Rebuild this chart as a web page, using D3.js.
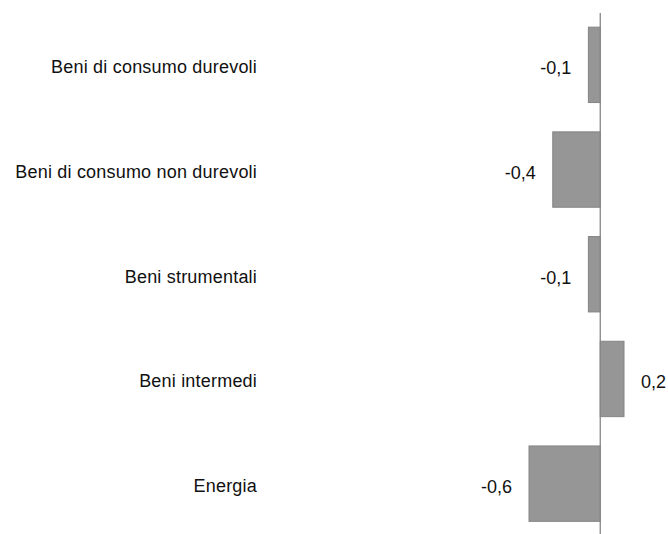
<!DOCTYPE html>
<html>
<head>
<meta charset="utf-8">
<script src="https://cdn.jsdelivr.net/npm/d3@7"></script>
<style>
  body { margin: 0; background: #fff; }
  text { font-family: "Liberation Sans", Arial, sans-serif; }
</style>
</head>
<body>
<div id="chart"></div>
<script>
// categories and values (top to bottom)
var categories = ['Beni di consumo durevoli', 'Beni di consumo non durevoli', 'Beni strumentali', 'Beni intermedi', 'Energia'];
var values = [-0.1, -0.4, -0.1, 0.2, -0.6];
var valueLabels = ['-0,1', '-0,4', '-0,1', '0,2', '-0,6'];

var W = 668, H = 534;

var svg = d3.select('#chart').append('svg')
    .attr('width', W)
    .attr('height', H);

var x = d3.scaleLinear()
    .domain([-0.6, 0.2])
    .range([529, 624]);

var y = d3.scaleBand()
    .domain(categories)
    .range([12.5, 536])
    .paddingInner(0.28)
    .paddingOuter(0.14);

var data = categories.map(function(c, i){ return { cat: c, v: values[i], lab: valueLabels[i] }; });

// bars
svg.selectAll('rect.bar')
    .data(data)
    .enter()
    .append('rect')
    .attr('class', 'bar')
    .attr('x', function(d){ return x(Math.min(0, d.v)); })
    .attr('y', function(d){ return y(d.cat); })
    .attr('width', function(d){ return Math.abs(x(d.v) - x(0)); })
    .attr('height', y.bandwidth())
    .attr('fill', '#969696')
    .attr('stroke', '#858585')
    .attr('stroke-width', 1);

// zero axis
svg.append('line')
    .attr('x1', x(0)).attr('x2', x(0))
    .attr('y1', 13).attr('y2', H)
    .attr('stroke', '#868686')
    .attr('stroke-width', 1.3);

// category labels
svg.selectAll('text.cat')
    .data(data)
    .enter()
    .append('text')
    .attr('class', 'cat')
    .attr('x', 257)
    .attr('y', function(d){ return y(d.cat) + y.bandwidth() / 2 + 2; })
    .attr('dy', '0.35em')
    .attr('text-anchor', 'end')
    .attr('font-size', '18px')
    .attr('letter-spacing', '0.2px')
    .attr('fill', '#111')
    .text(function(d){ return d.cat; });

// value labels
svg.selectAll('text.val')
    .data(data)
    .enter()
    .append('text')
    .attr('class', 'val')
    .attr('x', function(d){ return d.v < 0 ? x(d.v) - 17 : x(d.v) + 17; })
    .attr('y', function(d){ return y(d.cat) + y.bandwidth() / 2 + 3; })
    .attr('dy', '0.35em')
    .attr('text-anchor', function(d){ return d.v < 0 ? 'end' : 'start'; })
    .attr('font-size', '18px')
    .attr('fill', '#111')
    .text(function(d){ return d.lab; });
</script>
</body>
</html>
